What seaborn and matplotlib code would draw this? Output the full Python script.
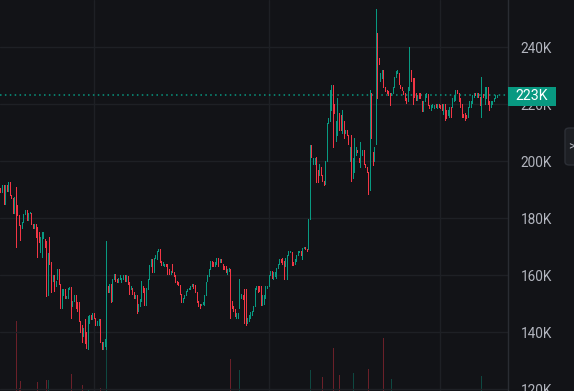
import numpy as np
import pandas as pd
import matplotlib
matplotlib.use("Agg")
import matplotlib.pyplot as plt
import seaborn as sns
from matplotlib.patches import Rectangle, FancyBboxPatch

# ---------------- data (price in thousands) ----------------
opens = [
190.4,189.0,191.6,184.8,191.6,189.5,192.6,188.1,187.0,181.8,
187.4,184.6,181.1,177.5,176.5,178.5,181.4,182.8,179.3,181.8,
181.8,177.9,176.5,178.0,176.8,175.0,168.0,166.3,173.0,172.5,
172.0,153.0,173.5,164.5,158.0,160.0,156.0,158.5,162.0,157.0,
148.5,153.0,155.0,152.0,152.0,155.0,155.8,149.0,151.0,153.0,
150.5,150.5,144.0,142.5,138.5,144.5,140.0,134.0,143.0,146.0,
144.5,146.5,145.0,142.5,142.5,144.5,136.5,134.0,135.0,136.0,
156.0,154.0,157.0,151.0,158.5,160.5,158.5,157.5,158.5,157.5,
158.5,160.0,158.0,159.5,157.5,155.0,155.5,154.0,152.0,153.0,
147.5,149.0,151.0,156.0,155.5,149.5,155.0,158.5,163.0,165.5,
161.0,166.0,165.5,168.5,169.0,165.0,163.5,163.0,164.0,164.0,
162.0,160.5,164.0,161.0,160.0,158.0,157.5,156.5,153.5,150.5,
152.0,153.0,154.5,155.0,155.0,156.0,157.0,156.5,154.0,151.0,
150.0,149.5,150.0,149.5,153.0,158.0,159.5,162.0,165.0,164.5,
163.0,164.0,166.0,164.5,165.5,164.0,163.0,163.0,160.5,161.5,
162.0,151.0,149.0,148.0,145.0,145.0,148.5,152.0,153.0,155.0,
155.0,143.0,144.0,145.0,146.0,147.5,149.0,155.0,156.0,156.0,
156.0,149.5,150.0,152.0,155.5,156.0,160.0,161.5,158.5,159.5,
159.0,162.5,164.0,165.5,166.0,165.0,163.0,158.5,167.0,168.0,
168.0,164.5,164.0,165.0,167.0,168.0,168.5,165.5,169.5,170.0,
169.0,169.0,179.5,205.5,199.0,199.0,201.5,197.0,195.0,198.0,
195.0,193.0,192.0,200.0,213.5,214.0,218.0,226.5,220.0,207.0,
209.0,217.0,216.0,210.0,214.0,210.0,211.0,209.0,200.0,209.0,
194.0,196.0,202.0,204.0,201.0,198.0,202.0,204.0,199.0,198.0,
196.0,194.0,224.0,203.0,200.0,210.0,243.0,236.0,228.0,229.0,
232.0,226.0,225.0,224.5,224.0,223.0,224.0,226.0,229.5,231.0,
231.0,226.5,226.0,224.5,224.0,222.0,221.0,225.0,232.0,229.0,
229.0,224.0,221.5,224.0,224.0,221.0,217.5,221.0,222.5,223.5,
219.5,218.0,219.0,218.5,220.0,218.5,220.0,219.5,220.0,216.5,
220.0,218.0,216.0,215.5,219.0,219.0,221.0,221.5,225.0,224.0,
222.0,220.0,216.5,217.0,216.0,215.5,219.0,219.0,220.5,222.5,
224.0,222.5,224.0,222.5,221.0,223.5,220.0,222.0,226.0,221.0,
219.0,220.0,221.0,222.0,222.5,
]
closes = [
189.0,191.6,184.8,191.6,189.5,192.6,188.1,187.0,181.8,187.4,
181.0,181.1,177.5,172.3,178.5,181.4,182.8,179.3,181.8,182.2,
177.9,176.5,178.0,173.5,166.3,171.5,173.3,175.0,175.0,170.0,
152.5,167.7,164.0,154.0,160.0,154.5,158.0,162.0,157.0,148.5,
155.0,155.0,152.0,152.8,155.5,155.8,145.0,151.0,153.0,148.5,
147.5,144.0,140.0,136.5,141.5,136.0,134.5,145.5,145.8,144.5,
146.5,145.0,142.5,144.0,144.5,136.5,134.0,136.5,137.5,155.4,
154.0,157.0,150.5,158.5,160.5,158.0,157.5,159.0,160.0,159.0,
160.0,158.0,160.0,157.0,153.5,156.0,153.5,152.0,153.0,146.5,
150.0,151.5,158.0,154.0,149.5,155.5,158.5,163.5,165.5,161.0,
166.0,167.0,168.5,169.0,164.5,163.5,164.5,164.0,163.0,160.5,
160.5,161.5,161.0,159.5,157.5,157.0,156.5,153.5,150.5,152.0,
153.0,154.5,155.0,155.5,156.0,157.0,155.5,154.0,150.5,149.0,
148.5,150.0,150.5,153.0,157.5,160.0,162.0,165.0,163.0,163.0,
164.5,166.0,163.0,165.5,164.5,162.0,162.0,161.0,162.0,162.5,
150.0,148.5,147.5,145.5,146.5,146.5,152.0,153.5,151.5,143.0,
142.5,145.0,146.0,147.0,147.5,149.0,155.5,156.0,154.0,154.5,
149.5,153.0,153.0,156.0,156.0,160.0,161.5,159.0,161.0,161.0,
162.5,164.0,165.5,164.5,164.0,158.5,166.0,167.0,168.5,168.5,
163.5,163.5,165.5,167.0,168.5,168.5,167.0,169.5,170.0,169.0,
168.5,179.5,205.5,201.5,201.0,201.0,192.5,192.5,199.0,195.0,
193.0,191.5,200.0,213.5,215.0,225.0,226.5,222.0,217.0,214.0,
222.0,211.0,211.0,218.0,208.0,211.0,209.0,206.0,205.0,193.0,
201.0,208.0,205.0,203.0,199.5,206.5,204.0,199.0,198.0,196.0,
191.0,224.0,208.0,198.5,205.0,223.0,222.0,234.0,231.0,232.0,
226.0,224.5,224.0,223.0,219.5,224.0,226.0,229.5,231.5,232.0,
227.0,225.5,225.0,223.5,221.5,220.5,226.0,230.0,228.0,220.0,
222.5,221.5,223.0,222.0,222.0,217.5,221.0,223.5,224.0,219.5,
218.5,219.5,220.0,219.5,219.0,220.0,219.0,218.5,218.0,220.0,
214.5,215.0,218.0,219.0,215.5,222.0,223.0,225.0,224.0,221.0,
219.0,215.5,215.5,214.5,215.0,219.0,221.0,221.0,223.0,224.0,
223.0,224.0,222.5,219.5,223.5,222.5,226.0,226.0,220.0,218.0,
221.0,221.0,222.0,223.0,223.0,
]
# candles with visible wicks: index, high, low
wick_idx = [10, 69, 150, 156, 217, 240, 241, 245, 246, 267, 314]
wick_high = [191.0, 172.0, 162.0, 158.5, 226.5, 196.0, 225.0, 253.5, 245.0, 240.0, 229.5]
wick_low = [170.0, 134.0, 145.0, 148.5, 205.0, 188.5, 190.0, 206.0, 222.0, 225.0, 215.5]

# visible volume bars: candle index and height (arbitrary units)
vol_idx = [10, 12, 13, 24, 30, 31, 46, 53, 57, 65, 69, 150, 156, 202, 210, 217, 221, 230, 240, 250, 255, 314]
vol_val = [17.9, 0.8, 2.6, 2.3, 2.8, 2.8, 4.3, 1.5, 0.5, 0.8, 10.5, 8.2, 5.4, 5.4, 3.5, 11.0, 4.0, 4.5, 5.5, 13.6, 3.0, 3.8]

y_ticks = [120, 140, 160, 180, 200, 220, 240]
y_labels = ["120K", "140K", "160K", "180K", "200K", "220K", "240K"]
last_price = 223
last_label = "223K"

# ---------------- styling ----------------
sns.set_theme(style="dark")
plt.rcParams['font.family'] = ['Roboto', 'DejaVu Sans']

BG = '#121317'
GRID = '#1e2025'
UP = '#089981'
DOWN = '#f23645'
TXT = '#b2b5be'

df = pd.DataFrame({'open': opens, 'close': closes})
df['i'] = np.arange(len(df))
df['high'] = df[['open', 'close']].max(axis=1)
df['low'] = df[['open', 'close']].min(axis=1)
for i, h, l in zip(wick_idx, wick_high, wick_low):
    df.loc[i, 'high'] = max(df.loc[i, 'high'], h)
    df.loc[i, 'low'] = min(df.loc[i, 'low'], l)
df['high'] = np.maximum(df['high'], df['low'] + 0.4)
df['color'] = np.where(df['close'] >= df['open'], UP, DOWN)

W, H = 574, 391
fig = plt.figure(figsize=(W / 100, H / 100), dpi=100, facecolor=BG)
pos = [0, 0, 508 / W, 1]

# volume axes (underneath)
vax = fig.add_axes(pos, facecolor=BG)
vax.set_xlim(-0.3, 331.3)
vax.set_ylim(0, 100)
vax.axis('off')
vcol = [df.loc[i, 'color'] for i in vol_idx]
vax.vlines(vol_idx, 0, vol_val, colors=vcol, alpha=0.4, lw=0.7, antialiased=False)

ax = fig.add_axes(pos, facecolor='none')
ax.set_xlim(-0.3, 331.3)
ax.set_ylim(119.3, 256.5)

ax.vlines(df['i'], df['low'], df['high'], colors=df['color'], lw=0.7, antialiased=False, zorder=3)

ax.axhline(last_price, color=UP, lw=1.1, ls=(0, (1, 2.2)), zorder=2)

ax.set_yticks(y_ticks)
ax.set_yticklabels(y_labels)
ax.set_xticks([61, 175.3, 286.9])
ax.set_xticklabels([])
ax.grid(True, color=GRID, lw=1)
ax.yaxis.tick_right()
ax.tick_params(axis='y', length=0, pad=9, labelsize=9.8, labelcolor=TXT)
ax.tick_params(axis='x', length=0)
for s in ['top', 'left', 'bottom']:
    ax.spines[s].set_visible(False)
ax.spines['right'].set_color('#2a2d33')
ax.spines['right'].set_linewidth(1)

# last price label
fig.patches.append(Rectangle((508 / W, (H - 106) / H), 47.5 / W, 19 / H,
                             transform=fig.transFigure, facecolor=UP, edgecolor='none', zorder=5))
fig.text(531.5 / W, (H - 96.5) / H, last_label, color='white', fontsize=10.2,
         ha='center', va='center', zorder=6)

# small side tab
fig.patches.append(FancyBboxPatch((565 / W, (H - 165) / H), 14 / W, 37 / H,
                                  boxstyle='round,pad=0,rounding_size=0.008',
                                  transform=fig.transFigure, facecolor='#1d1f24',
                                  edgecolor='#2c2f36', lw=1, zorder=5))
fig.text(571 / W, (H - 147) / H, '>', color=TXT, fontsize=9, ha='center', va='center', zorder=6)

fig.savefig('out.png', dpi=100, facecolor=BG)
